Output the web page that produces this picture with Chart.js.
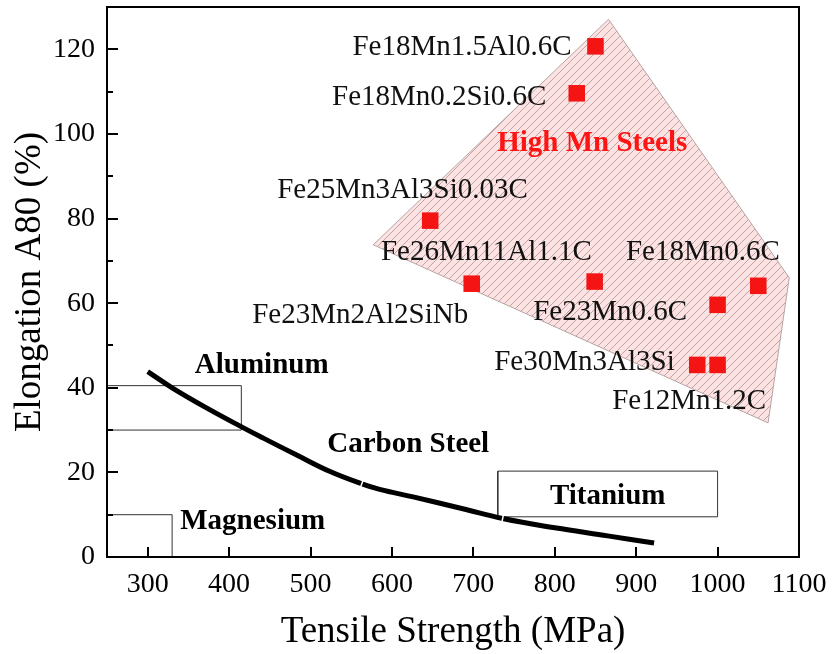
<!DOCTYPE html>
<html>
<head>
<meta charset="utf-8">
<script src="https://cdn.jsdelivr.net/npm/chart.js@4.4.1/dist/chart.umd.min.js"></script>
<style>
  html, body { margin: 0; padding: 0; background: #fff; }
</style>
</head>
<body>
<canvas id="chart" width="832" height="654"></canvas>
<script>
const FONT = '"Liberation Serif", "Times New Roman", serif';

const xTicks = [300, 400, 500, 600, 700, 800, 900, 1000, 1100];
const yTicks = [0, 20, 40, 60, 80, 100, 120];
const yMinorTicks = [10, 30, 50, 70, 90, 110];

// high Mn steel grades: tensile strength (MPa) / elongation A80 (%)
const steelStrength = [850, 827, 647, 698, 849, 1000, 1050, 975, 1000];
const steelElong = [120.7, 109.6, 79.5, 64.6, 65.1, 59.6, 64.1, 45.4, 45.4];

// carbon steel banana curve (pieces joined at index 7 and 11)
const carbonX = [300, 330, 370, 413, 442, 483, 524, 563, 585, 626, 687, 736, 800, 865, 922];
const carbonY = [43.8, 40, 35.5, 31.0, 28.1, 24.1, 20.2, 17.3, 16.0, 14.2, 11.4, 9.1, 6.9, 5.0, 3.3];
const carbonJoins = [7, 11];

// high Mn steel region outline
const regionX = [577, 866, 1088, 1062, 577];
const regionY = [73.8, 127.1, 66, 31.7, 73.8];

// property windows of other metals [x0, x1], [y0, y1]
const aluminumX = [250, 415], aluminumY = [30, 40.5];
const magnesiumX = [250, 330], magnesiumY = [0, 10];
const titaniumX = [730, 1000], titaniumY = [9.5, 20.3];

// grade labels
const gradeText = ['Fe18Mn1.5Al0.6C', 'Fe18Mn0.2Si0.6C', 'Fe25Mn3Al3Si0.03C', 'Fe26Mn11Al1.1C', 'Fe18Mn0.6C',
  'Fe23Mn2Al2SiNb', 'Fe23Mn0.6C', 'Fe30Mn3Al3Si', 'Fe12Mn1.2C'];
const gradeX = [686, 658, 613, 716, 982, 561, 868, 836.5, 965];
const gradeY = [120.5, 108.6, 86.6, 72, 72, 57.2, 57.7, 45.9, 36.7];

// group labels
const groupText = ['High Mn Steels', 'Aluminum', 'Carbon Steel', 'Titanium', 'Magnesium'];
const groupX = [846, 440, 620, 865, 429];
const groupY = [97.7, 45.3, 26.7, 14.4, 8.3];

function rectPoints(xs, ys) {
  return [
    { x: xs[0], y: ys[0] }, { x: xs[1], y: ys[0] }, { x: xs[1], y: ys[1] },
    { x: xs[0], y: ys[1] }, { x: xs[0], y: ys[0] }
  ];
}

function hatch() {
  const c = document.createElement('canvas');
  c.width = 8; c.height = 8;
  const g = c.getContext('2d');
  g.fillStyle = '#fce3e3';
  g.fillRect(0, 0, 8, 8);
  g.strokeStyle = '#c4a2a2';
  g.lineWidth = 1;
  g.beginPath();
  g.moveTo(-1, 9); g.lineTo(9, -1);
  g.moveTo(-1, 1); g.lineTo(1, -1);
  g.moveTo(7, 9); g.lineTo(9, 7);
  g.stroke();
  return g.createPattern(c, 'repeat');
}

const frameAndTicks = {
  id: 'frameAndTicks',
  afterDatasetsDraw(chart) {
    const { ctx, chartArea: a, scales: { x, y } } = chart;
    ctx.save();

    // thin white breaks where the curve pieces meet
    ctx.strokeStyle = '#fff';
    ctx.lineWidth = 1.5;
    ctx.beginPath();
    carbonJoins.forEach(i => {
      const px = x.getPixelForValue(carbonX[i]), py = y.getPixelForValue(carbonY[i]);
      const dx = x.getPixelForValue(carbonX[i + 1]) - x.getPixelForValue(carbonX[i - 1]);
      const dy = y.getPixelForValue(carbonY[i + 1]) - y.getPixelForValue(carbonY[i - 1]);
      const len = Math.hypot(dx, dy);
      const nx = -dy / len * 4, ny = dx / len * 4;
      ctx.moveTo(px - nx, py - ny); ctx.lineTo(px + nx, py + ny);
    });
    ctx.stroke();

    ctx.strokeStyle = '#000';
    ctx.lineWidth = 2;
    ctx.strokeRect(a.left, a.top, a.right - a.left, a.bottom - a.top);
    ctx.beginPath();
    xTicks.forEach(v => {
      const px = Math.round(x.getPixelForValue(v));
      ctx.moveTo(px, a.bottom); ctx.lineTo(px, a.bottom - 10);
    });
    yTicks.forEach(v => {
      const py = Math.round(y.getPixelForValue(v));
      ctx.moveTo(a.left, py); ctx.lineTo(a.left + 11, py);
    });
    yMinorTicks.forEach(v => {
      const py = Math.round(y.getPixelForValue(v));
      ctx.moveTo(a.left, py); ctx.lineTo(a.left + 6, py);
    });
    ctx.stroke();

    ctx.textAlign = 'center';
    ctx.textBaseline = 'middle';
    ctx.fillStyle = '#111';
    ctx.font = '29px ' + FONT;
    gradeText.forEach((t, i) => {
      ctx.fillText(t, x.getPixelForValue(gradeX[i]), y.getPixelForValue(gradeY[i]));
    });
    ctx.font = 'bold 29px ' + FONT;
    groupText.forEach((t, i) => {
      ctx.fillStyle = i === 0 ? '#ff1414' : '#000';
      ctx.fillText(t, x.getPixelForValue(groupX[i]), y.getPixelForValue(groupY[i]));
    });
    ctx.restore();
  }
};

const boxStyle = { showLine: true, borderColor: '#333', borderWidth: 1, pointRadius: 0, fill: false, order: 2 };

new Chart(document.getElementById('chart'), {
  type: 'scatter',
  data: {
    datasets: [
      {
        data: steelStrength.map((v, i) => ({ x: v, y: steelElong[i] })),
        pointStyle: 'rect',
        pointRadius: 11.7,
        backgroundColor: '#f41414',
        borderWidth: 0,
        order: 0
      },
      {
        data: carbonX.map((v, i) => ({ x: v, y: carbonY[i] })),
        showLine: true,
        borderColor: '#000',
        borderWidth: 5,
        tension: 0.4,
        pointRadius: 0,
        order: 1
      },
      { ...boxStyle, data: rectPoints(aluminumX, aluminumY) },
      { ...boxStyle, data: rectPoints(magnesiumX, magnesiumY) },
      { ...boxStyle, data: rectPoints(titaniumX, titaniumY) },
      {
        data: regionX.map((v, i) => ({ x: v, y: regionY[i] })),
        showLine: true,
        fill: 'shape',
        backgroundColor: hatch(),
        borderColor: '#b9a3a3',
        borderWidth: 1,
        pointRadius: 0,
        order: 3
      }
    ]
  },
  options: {
    responsive: false,
    animation: false,
    devicePixelRatio: 1,
    layout: { autoPadding: false, padding: { left: 8, right: 33, top: 7, bottom: 0 } },
    plugins: { legend: { display: false }, tooltip: { enabled: false } },
    scales: {
      x: {
        type: 'linear',
        min: 250,
        max: 1100,
        afterBuildTicks: s => { s.ticks = xTicks.map(v => ({ value: v })); },
        afterFit: s => { s.height = 97; s.paddingLeft = 0; s.paddingRight = 0; },
        grid: { display: false, drawTicks: false },
        border: { display: false },
        ticks: { color: '#000', padding: 11, maxRotation: 0, autoSkip: false, callback: v => String(v), font: { family: FONT, size: 28 } },
        title: { display: true, text: 'Tensile Strength (MPa)', color: '#000', padding: 0, font: { family: FONT, size: 37 } }
      },
      y: {
        type: 'linear',
        min: 0,
        max: 130,
        afterBuildTicks: s => { s.ticks = yTicks.map(v => ({ value: v })); },
        afterFit: s => { s.width = 99; s.paddingTop = 0; s.paddingBottom = 0; },
        grid: { display: false, drawTicks: false },
        border: { display: false },
        ticks: { color: '#000', padding: 12, autoSkip: false, callback: v => String(v), font: { family: FONT, size: 28 } },
        title: { display: true, text: 'Elongation A80 (%)', color: '#000', padding: 0, font: { family: FONT, size: 37 } }
      }
    }
  },
  plugins: [frameAndTicks]
});
</script>
</body>
</html>
